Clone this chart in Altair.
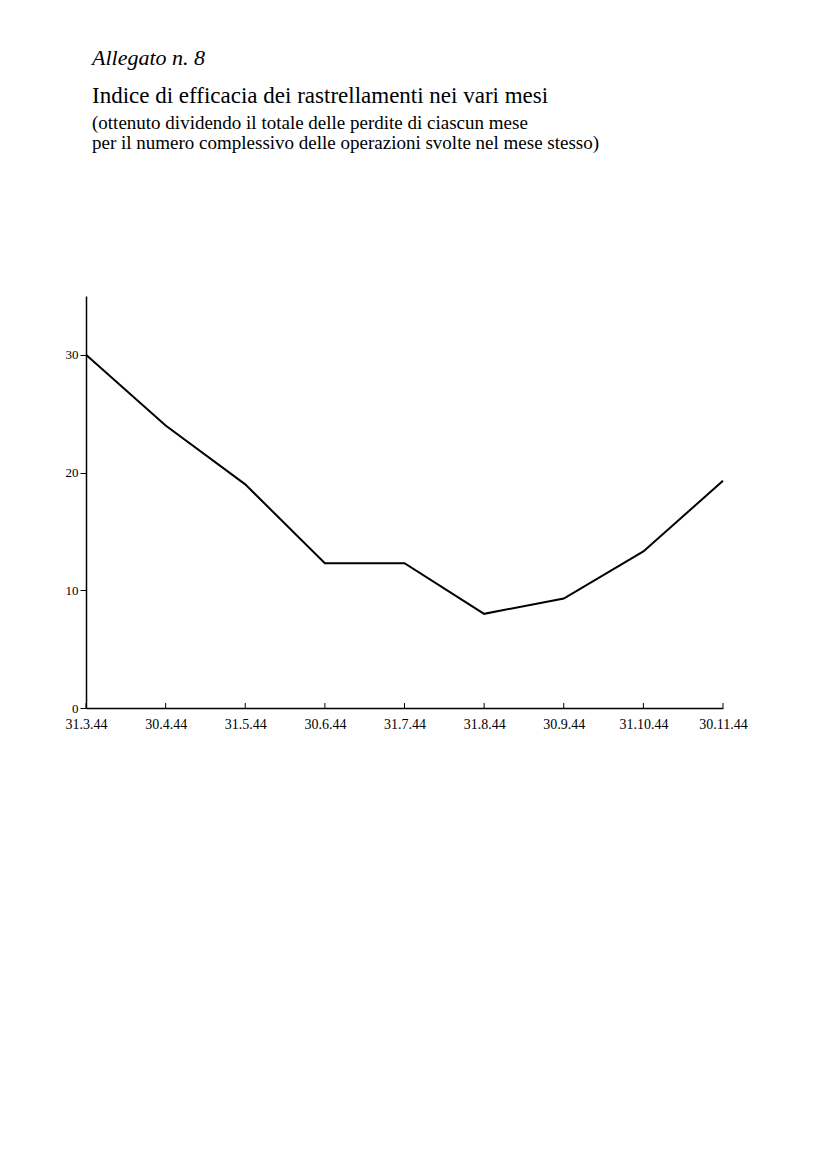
import altair as alt
import pandas as pd

dates = ["31.3.44", "30.4.44", "31.5.44", "30.6.44", "31.7.44",
         "31.8.44", "30.9.44", "31.10.44", "30.11.44"]
values = [30.0, 24.0, 19.0, 12.3, 12.3, 8.0, 9.3, 13.3, 19.3]

title_text = "Allegato n. 8"
heading_text = "Indice di efficacia dei rastrellamenti nei vari mesi"
sub_line1 = "(ottenuto dividendo il totale delle perdite di ciascun mese"
sub_line2 = "per il numero complessivo delle operazioni svolte nel mese stesso)"

df = pd.DataFrame({"data": dates, "indice": values})

FONT = "Liberation Serif"

x = alt.X("data:O", sort=dates,
          scale=alt.Scale(type="point", padding=0),
          axis=alt.Axis(title=None, labelAngle=0, labelFont=FONT, labelFontSize=14,
                        labelColor="black", domainColor="black", domainWidth=1.5,
                        ticks=False, labelPadding=9, grid=False))
y = alt.Y("indice:Q", scale=alt.Scale(domain=[0, 35], nice=False),
          axis=alt.Axis(title=None, values=[0, 10, 20, 30], labelFont=FONT,
                        labelFontSize=13, labelColor="black", domainColor="black",
                        domainWidth=1.5, tickColor="black", tickSize=6, tickWidth=1,
                        labelPadding=2, grid=False))

line = alt.Chart(df).mark_line(color="black", strokeWidth=2).encode(x=x, y=y)

xticks = alt.Chart(df).mark_rule(color="black", strokeWidth=1).encode(
    x=alt.X("data:O", sort=dates, scale=alt.Scale(type="point", padding=0)),
    y=alt.value(412), y2=alt.value(407)
)


def text_layer(txt, size, ypos, style="normal"):
    return alt.Chart(pd.DataFrame({"t": [txt]})).mark_text(
        align="left", baseline="alphabetic", font=FONT, fontSize=size,
        fontStyle=style, color="black"
    ).encode(text="t:N", x=alt.value(6), y=alt.value(ypos))


t1 = text_layer(title_text, 22, -231, "italic")
t2 = text_layer(heading_text, 23, -193)
t3 = text_layer(sub_line1, 19, -167)
t4 = text_layer(sub_line2, 19, -147)

chart = alt.layer(line, xticks, t1, t2, t3, t4).properties(
    width=637, height=412,
    autosize=alt.AutoSizeParams(type="none"),
    padding={"left": 78, "top": 288, "right": 80, "bottom": 400},
    background="white"
).configure_view(stroke=None)

chart.save("out.html", embed_options={"renderer": "svg", "actions": False})
